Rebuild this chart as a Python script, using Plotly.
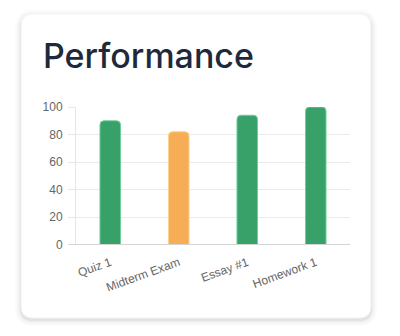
import plotly.graph_objects as go

categories = ["Quiz 1", "Midterm Exam", "Essay #1", "Homework 1"]
scores = [90, 82, 94, 100]
bar_colors = ["#38a169", "#f6ad55", "#38a169", "#38a169"]
border_colors = ["#6fcf97", "#fbd38d", "#6fcf97", "#6fcf97"]
y_ticks = [0, 20, 40, 60, 80, 100]
title_text = "Performance"

W, H = 400, 336


def px(x):
    return x / W


def py(y):
    return 1 - y / H


def rrect(x0, y0, x1, y1, r):
    pts = [
        f"M{px(x0 + r)},{py(y0)}",
        f"L{px(x1 - r)},{py(y0)}",
        f"Q{px(x1)},{py(y0)} {px(x1)},{py(y0 + r)}",
        f"L{px(x1)},{py(y1 - r)}",
        f"Q{px(x1)},{py(y1)} {px(x1 - r)},{py(y1)}",
        f"L{px(x0 + r)},{py(y1)}",
        f"Q{px(x0)},{py(y1)} {px(x0)},{py(y1 - r)}",
        f"L{px(x0)},{py(y0 + r)}",
        f"Q{px(x0)},{py(y0)} {px(x0 + r)},{py(y0)}",
        "Z",
    ]
    return " ".join(pts)


fig = go.Figure()
fig.add_trace(go.Bar(
    x=categories, y=scores,
    marker=dict(color=bar_colors, line=dict(color=border_colors, width=1)),
    width=0.3,
    hoverinfo="skip",
))

shapes = []
for d, op in [(6, 0.015), (4, 0.025), (2, 0.035), (1, 0.04)]:
    shapes.append(dict(type="path", xref="paper", yref="paper",
                       path=rrect(21 - d, 14 - d + 2, 371 + d, 318 + d + 2, 12 + d),
                       fillcolor=f"rgba(0,0,0,{op})", line=dict(width=0), layer="below"))
shapes.append(dict(type="path", xref="paper", yref="paper",
                   path=rrect(21, 14, 371, 318, 12),
                   fillcolor="#ffffff", line=dict(color="#f3f3f3", width=1), layer="below"))
shapes.append(dict(type="line", xref="paper", yref="paper",
                   x0=px(69), x1=px(350), y0=py(244.5), y1=py(244.5),
                   line=dict(color="#d4d4d4", width=1), layer="above"))

fig.update_layout(
    width=W, height=H,
    margin=dict(l=0, r=0, t=0, b=0, autoexpand=False),
    paper_bgcolor="#ffffff",
    plot_bgcolor="rgba(0,0,0,0)",
    showlegend=False,
    barcornerradius=4,
    shapes=shapes,
    annotations=[dict(
        text=title_text, x=px(41), y=py(78), xref="paper", yref="paper",
        xanchor="left", yanchor="bottom", showarrow=False,
        font=dict(family="Inter", size=34, color="#1e2a3b", weight=500),
    )],
    xaxis=dict(
        domain=[px(76), px(350)],
        automargin=False,
        tickangle=-20,
        tickfont=dict(family="Liberation Sans, Arial", size=12, color="#666666"),
        showgrid=False, showline=False, zeroline=False,
        ticks="", ticklabelstandoff=8, fixedrange=True,
    ),
    yaxis=dict(
        domain=[py(244.5), py(107)],
        automargin=False,
        range=[0, 100],
        tickvals=y_ticks,
        tickfont=dict(family="Liberation Sans, Arial", size=12, color="#666666"),
        showgrid=True, gridcolor="#ebebeb", gridwidth=1,
        showline=True, linecolor="#e6e6e6", linewidth=1,
        ticks="outside", ticklen=7, tickcolor="#e6e6e6",
        ticklabelstandoff=3,
        zeroline=False, fixedrange=True,
    ),
)

fig.write_html("out.html")
